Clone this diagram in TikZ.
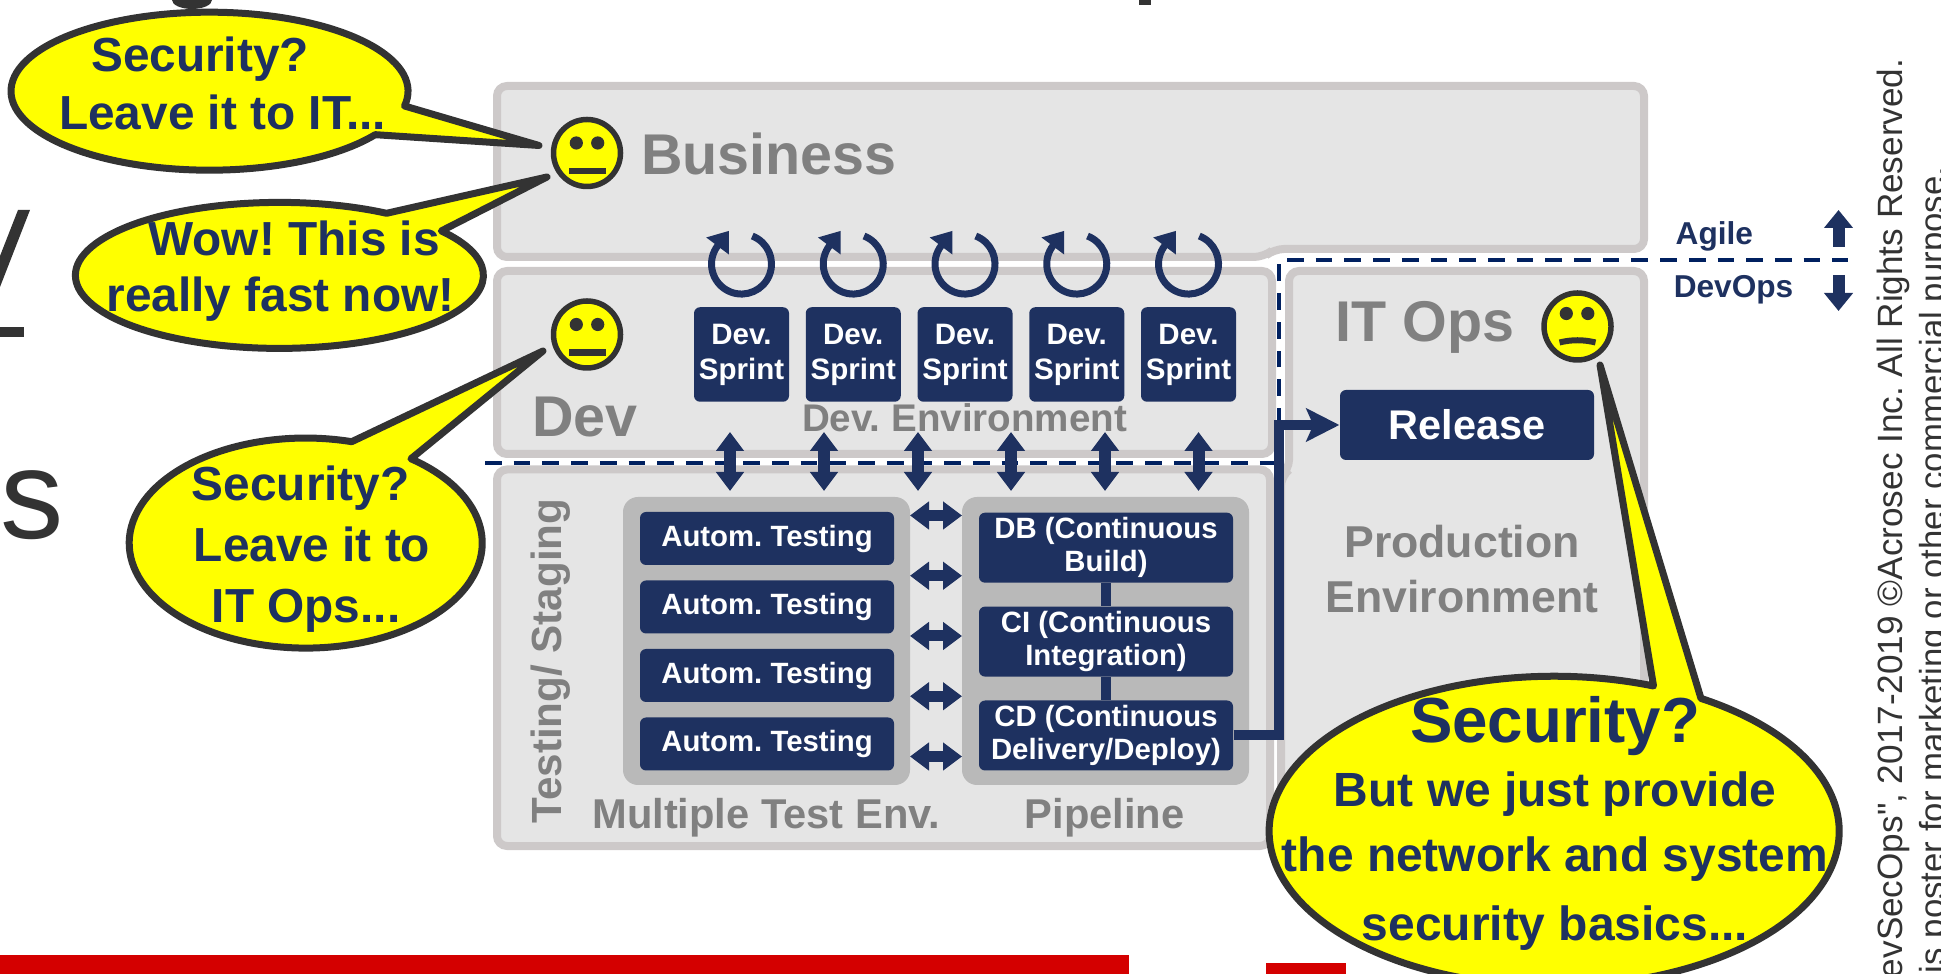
\documentclass[tikz,border=0pt]{standalone}
\usepackage{fontspec}
\setmainfont{Liberation Sans}
\newfontfamily\notefont{Liberation Sans}
\usetikzlibrary{arrows.meta, calc}
\frenchspacing

\definecolor{navy}{HTML}{1E3160}
\definecolor{dashnavy}{HTML}{002060}
\definecolor{panelfill}{HTML}{E5E5E5}
\definecolor{panelline}{HTML}{CDC9C9}
\definecolor{greybox}{HTML}{B9B9B9}
\definecolor{greytext}{HTML}{808080}
\definecolor{inkdark}{HTML}{333333}
\definecolor{redbar}{HTML}{D40000}
\definecolor{sayyellow}{HTML}{FFFF00}

\tikzset{
  panel/.style={fill=panelfill, draw=panelline, line width=0.08cm, rounded corners=0.10cm},
  groupbox/.style={fill=greybox, rounded corners=0.15cm},
  bluebox/.style={fill=navy, text=white, inner sep=0pt, rounded corners=0.06cm, align=center,
    font=\bfseries\fontsize{8.35}{9.5}\selectfont},
  sprintbox/.style={bluebox, minimum width=0.95cm, minimum height=0.945cm, font=\bfseries\fontsize{8.4}{10}\selectfont},
  testbox/.style={bluebox, minimum width=2.54cm, minimum height=0.53cm},
  pipebox/.style={bluebox, minimum width=2.54cm, minimum height=0.70cm},
  panellabel/.style={text=greytext, font=\bfseries\fontsize{16.35}{18}\selectfont, anchor=base},
  envlabel/.style={text=greytext, font=\bfseries\fontsize{11.85}{14}\selectfont, anchor=base},
  sidelabel/.style={text=navy, font=\bfseries\fontsize{9}{11}\selectfont, anchor=base},
  bubble/.style={fill=sayyellow, draw=inkdark, line width=0.07cm, line join=round},
  saytext/.style={text=navy, inner sep=0pt, align=left, font=\bfseries\fontsize{13.6}{16.4}\selectfont},
  noteline/.style={text=inkdark, inner sep=0pt, rotate=90, anchor=base east, font=\notefont\fontsize{10}{12}\selectfont},
  smiley/.style={circle, fill=sayyellow, draw=inkdark, line width=0.055cm, minimum size=0.67cm, inner sep=0pt},
  fatarrow/.style={navy, line width=0.12cm, {Triangle[length=0.19cm,width=0.27cm]}-{Triangle[length=0.19cm,width=0.27cm]}},
  uparrow/.style={navy, line width=0.12cm, -{Triangle[length=0.18cm,width=0.28cm]}},
  looparrow/.style={navy, line width=0.07cm, -{Triangle[length=0.19cm,width=0.27cm]}},
  pipeline/.style={navy, line width=0.10cm},
  borderline/.style={dashnavy, line width=0.04cm, dash pattern=on 0.167cm off 0.12cm},
}

\begin{document}
\begin{tikzpicture}
\useasboundingbox (0,0) rectangle (19.41,-9.74);
\clip (0,0) rectangle (19.41,-9.74);

% Cut off page content
\fill[inkdark] (1.72,0) arc[start angle=180,end angle=360,x radius=0.20,y radius=0.09] -- cycle;
\fill[inkdark] (11.39,0) rectangle (11.51,-0.05);
\fill[inkdark] (0.30,-2.10) -- (0.18,-2.10) -- (0,-2.56) -- (0,-2.87) -- cycle;
\fill[inkdark] (0,-3.27) rectangle (0.24,-3.37);
\node[text=inkdark, inner sep=0pt, anchor=base, font=\fontsize{36}{40}\selectfont] (bigs) at (0.32,-5.39) {s};
\fill[redbar] (0,-9.55) rectangle (11.29,-9.74);
\fill[redbar] (12.66,-9.63) rectangle (13.46,-9.74);

% Panels
\draw[panel] (4.97,-0.86) -- (16.44,-0.86) -- (16.44,-2.49) -- (12.74,-2.49) -- (12.64,-2.57) -- (4.97,-2.57) -- cycle;
\draw[panel] (4.97,-2.71) rectangle (12.72,-4.54);
\draw[panel] (12.89,-2.71) -- (16.44,-2.71) -- (16.44,-8.46) -- (12.81,-8.46) -- (12.81,-4.76) -- (12.89,-4.70) -- cycle;
\draw[panel] (4.97,-4.695) rectangle (12.70,-8.46);
\fill[groupbox] (6.23,-4.97) rectangle (9.10,-7.85);
\fill[groupbox] (9.62,-4.97) rectangle (12.49,-7.85);

\node[panellabel] (business) at (7.69,-1.745) {Business};
\node[panellabel] (dev) at (5.85,-4.365) {Dev};
\node[panellabel] (itops) at (14.25,-3.42) {IT Ops};
\node[envlabel, font=\bfseries\fontsize{10.97}{13}\selectfont] (devenv) at (9.645,-4.32) {Dev. Environment};
\node[envlabel] (testenv) at (7.663,-8.28) {Multiple Test Env.};
\node[envlabel] (pipe) at (11.045,-8.28) {Pipeline};
\node[envlabel, font=\bfseries\fontsize{12}{14}\selectfont, rotate=90] (staging) at (5.61,-6.61) {Testing/ Staging};
\node[text=greytext, inner sep=0pt, align=center, font=\bfseries\fontsize{12.7}{15.8}\selectfont] (prodenv) at (14.62,-5.69) {Production\\Environment};

% Sprints
\foreach \i in {1,...,5} {
  \node[sprintbox] (sprint\i) at ({7.415+1.1175*(\i-1)},-3.545) {Dev.\\Sprint};
  \draw[looparrow] ($(sprint\i.north)+(0,0.425)+(69:0.30)$) arc[start angle=69,end angle=-217,radius=0.30] -- ++(53:0.19);
}

% Test environments
\foreach \i in {1,...,4}
  \node[testbox] (test\i) at (7.67,{-5.385-0.685*(\i-1)}) {Autom. Testing};

% Pipeline
\node[pipebox] (db) at (11.06,-5.477) {DB (Continuous\\Build)};
\node[pipebox] (ci) at (11.06,-6.416) {CI (Continuous\\Integration)};
\node[pipebox] (cd) at (11.06,-7.355) {CD (Continuous\\Delivery/Deploy)};
\draw[pipeline] (db) -- (ci);
\draw[pipeline] (ci) -- (cd);
\foreach \i in {1,...,5} {
  \coordinate (left\i) at (9.10,{-5.155-0.6025*(\i-1)});
  \coordinate (right\i) at (9.62,{-5.155-0.6025*(\i-1)});
  \draw[fatarrow, line width=0.11cm] (left\i) -- (right\i);
}

% Agile line and DevOps line
\coordinate (dashstart) at (4.85,-4.63);
\coordinate (dashbend) at (12.79,-4.63);
\coordinate (dashtop) at (12.79,-2.605);
\coordinate (dashend) at (18.48,-2.605);
\draw[borderline] (dashstart) -- (dashbend) -- (dashtop) -- (dashend);
\foreach \i/\x in {1/7.30,2/8.24,3/9.18,4/10.11,5/11.05,6/11.985} {
  \coordinate (top\i) at (\x,-4.32);
  \coordinate (bot\i) at (\x,-4.91);
  \draw[fatarrow] (top\i) -- (bot\i);
}
\node[sidelabel] (agile) at (17.143,-2.444) {Agile};
\node[sidelabel] (devops) at (17.335,-2.977) {DevOps};
\coordinate (agilefrom) at (18.385,-2.47);
\coordinate (agileto) at (18.385,-2.10);
\coordinate (devopsfrom) at (18.385,-2.75);
\coordinate (devopsto) at (18.385,-3.11);
\draw[uparrow] (agilefrom) -- (agileto);
\draw[uparrow] (devopsfrom) -- (devopsto);

% Release
\node[bluebox, minimum width=2.54cm, minimum height=0.70cm, font=\bfseries\fontsize{11.8}{14}\selectfont] (release) at (14.67,-4.25) {Release};
\coordinate (elbow) at (12.79,-4.25);
\draw[pipeline, -{Stealth[length=0.33cm,width=0.33cm,inset=0.07cm]}] (cd.east) -| (elbow) -- (release.west);

% Faces
\node[smiley] (bizface) at (5.87,-1.53) {};
\node[smiley] (devface) at (5.87,-3.345) {};
\node[smiley] (itface) at (15.775,-3.265) {};
\foreach \f in {bizface,devface} {
  \fill[inkdark] ($(\f)+(-0.107,0.10)$) circle (0.066);
  \fill[inkdark] ($(\f)+(0.107,0.10)$) circle (0.066);
  \fill[inkdark] ($(\f)+(-0.185,-0.147)$) rectangle ($(\f)+(0.185,-0.213)$);
}
\fill[inkdark] ($(itface)+(-0.112,0.13)$) circle (0.066);
\fill[inkdark] ($(itface)+(0.103,0.13)$) circle (0.066);
\draw[inkdark, line width=0.06cm] ($(itface)+(-0.18,-0.16)$) .. controls ($(itface)+(-0.06,-0.13)$) and ($(itface)+(0.06,-0.13)$) .. ($(itface)+(0.18,-0.16)$);

% Bubbles
\draw[bubble] (4.045,-1.06) arc[start angle=-10.8,end angle=326.6,x radius=1.985,y radius=0.79] -- (5.39,-1.455) -- cycle;
\draw[bubble] (3.866,-2.133) arc[start angle=58.3,end angle=397.5,x radius=2.04,y radius=0.73] -- (5.47,-1.77) -- cycle;
\draw[bubble] (3.517,-4.417) arc[start angle=74.9,end angle=413.4,x radius=1.765,y radius=1.05] -- (5.43,-3.51) -- cycle;
\draw[bubble] (16.535,-6.86) arc[start angle=69.6,end angle=419,x radius=2.85,y radius=1.55] -- (16.00,-3.65) -- cycle;

\node[saytext] (say1) at (2.225,-0.835) {\hspace*{0.32cm}Security?\\Leave it to IT...};
\node[saytext, font=\bfseries\fontsize{13.6}{15.85}\selectfont] (say2) at (2.805,-2.71) {\hspace*{0.42cm}Wow! This is\\really fast now!};
\node[saytext, font=\bfseries\fontsize{13.6}{17.3}\selectfont] (say3) at (3.11,-5.49) {Security?\\\hspace*{0.02cm}Leave it to\\\hspace*{0.20cm}IT Ops...};
\node[saytext, align=center, font=\bfseries\fontsize{13.65}{18.4}\selectfont] (say4) at (15.55,-8.23) {{\fontsize{18.1}{18.4}\selectfont Security?}\\But we just provide\\the network and system\\[0.04cm]security basics...};

% Side notes
\node[noteline] (note1) at (19.026,-0.58) {evSecOps", 2017-2019 ©Acrosec Inc. All Rights Reserved.};
\node[noteline, font=\notefont\fontsize{9.9}{12}\selectfont] (note2) at (19.44,-1.66) {is poster for marketing or other commercial purpose.};
\end{tikzpicture}
\end{document}
